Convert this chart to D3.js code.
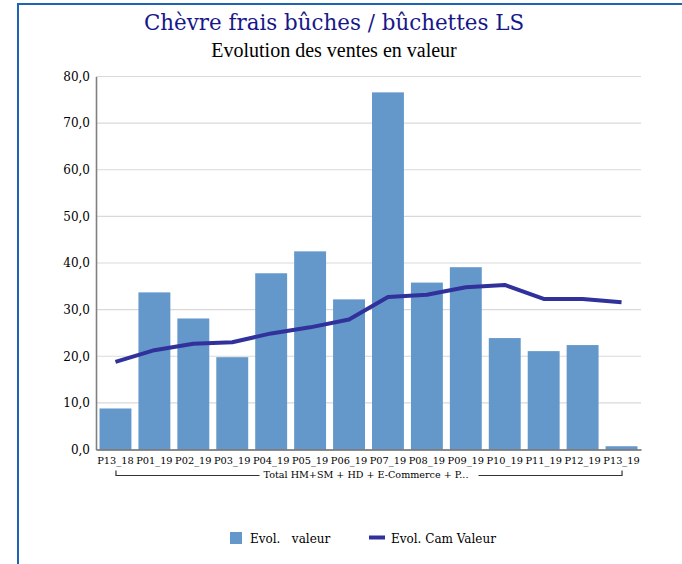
<!DOCTYPE html>
<html>
<head>
<meta charset="utf-8">
<script src="https://cdn.jsdelivr.net/npm/d3@7"></script>
<style>
  html, body { margin: 0; padding: 0; background: #fff; }
  svg { display: block; }
  text { white-space: pre; }
</style>
</head>
<body>
<script>
// Périodes et valeurs
const periods = ["P13_18","P01_19","P02_19","P03_19","P04_19","P05_19","P06_19",
                 "P07_19","P08_19","P09_19","P10_19","P11_19","P12_19","P13_19"];
const evolValeur = [8.8, 33.7, 28.1, 19.8, 37.8, 42.5, 32.2, 76.6, 35.8, 39.1, 23.9, 21.1, 22.4, 0.7];
const evolCamValeur = [18.8, 21.3, 22.7, 23.0, 24.9, 26.2, 27.9, 32.7, 33.2, 34.8, 35.3, 32.3, 32.3, 31.6];
const yTicks = [0, 10, 20, 30, 40, 50, 60, 70, 80];
const groupLabel = "Total HM+SM + HD + E-Commerce + P...";
const chartTitle = "Chèvre frais bûches / bûchettes LS";
const chartSubtitle = "Evolution des ventes en valeur";
const legendLabels = ["Evol.   valeur", "Evol. Cam Valeur"];

const W = 682, H = 564;
const margin = { left: 96, right: 41, top: 76.5, bottom: 114.5 };
const barColor = "#6498cb";
const lineColor = "#31319b";
const serif = "'DejaVu Serif', serif";

const svg = d3.select("body").append("svg").attr("width", W).attr("height", H);

// cadre
svg.append("rect").attr("x", 18).attr("y", 4).attr("width", W + 20).attr("height", H + 20)
  .attr("fill", "none").attr("stroke", "#1f63b5").attr("stroke-width", 2);

const x = d3.scaleBand().domain(periods)
  .range([margin.left, W - margin.right])
  .paddingInner(0.18).paddingOuter(0.09);
const y = d3.scaleLinear().domain([0, 80]).range([H - margin.bottom, margin.top]);

// titres
svg.append("text").attr("x", 334).attr("y", 30).attr("text-anchor", "middle")
  .attr("font-family", serif).attr("font-size", 21.4).attr("fill", "#17178a").text(chartTitle);
svg.append("text").attr("x", 334).attr("y", 57).attr("text-anchor", "middle")
  .attr("font-family", "'Liberation Serif', serif").attr("font-size", 20).attr("fill", "#000").text(chartSubtitle);

// grille
svg.append("g").selectAll("line").data(yTicks.filter(d => d > 0)).join("line")
  .attr("x1", margin.left).attr("x2", W - margin.right)
  .attr("y1", d => y(d)).attr("y2", d => y(d))
  .attr("stroke", "#d9d9d9").attr("stroke-width", 1.2);

// axe Y
const yAxis = svg.append("g").attr("transform", `translate(${margin.left},0)`)
  .call(d3.axisLeft(y).tickValues(yTicks).tickSize(0).tickPadding(6)
    .tickFormat(d => d3.format(".1f")(d).replace(".", ",")));
yAxis.select(".domain").attr("stroke", "#808080").attr("stroke-width", 1.6);
yAxis.selectAll("text").attr("font-family", serif).attr("font-size", 12).attr("fill", "#000");

// barres
svg.append("g").selectAll("rect").data(periods).join("rect")
  .attr("x", d => x(d)).attr("width", x.bandwidth())
  .attr("y", (d, i) => y(evolValeur[i]))
  .attr("height", (d, i) => y(0) - y(evolValeur[i]))
  .attr("fill", barColor);

// axe X
const xAxis = svg.append("g").attr("transform", `translate(0,${y(0)})`)
  .call(d3.axisBottom(x).tickSize(0).tickPadding(8));
xAxis.select(".domain").attr("stroke", "#666").attr("stroke-width", 1.6);
xAxis.selectAll("text").attr("font-family", serif).attr("font-size", 9.8).attr("fill", "#000");

// accolade du groupe
const bx0 = x(periods[0]) + x.bandwidth() / 2 + 0.5;
const bx1 = x(periods[periods.length - 1]) + x.bandwidth() / 2 + 0.5;
const by = y(0) + 26;
const grp = svg.append("g");
const gText = grp.append("text").attr("x", (bx0 + bx1) / 2 - 3).attr("y", by + 2.5)
  .attr("text-anchor", "middle").attr("font-family", serif).attr("font-size", 9.6)
  .attr("fill", "#000").text(groupLabel);
const tw = gText.node().getComputedTextLength();
const tc = (bx0 + bx1) / 2 - 3;
const tx0 = tc - tw / 2 - 4, tx1 = tc + tw / 2 + 10;
grp.append("path")
  .attr("d", `M${bx0},${by - 5}V${by}H${tx0}M${tx1},${by}H${bx1}V${by - 5}`)
  .attr("fill", "none").attr("stroke", "#333").attr("stroke-width", 1.2);

// courbe cumul
const line = d3.line()
  .x((d, i) => x(periods[i]) + x.bandwidth() / 2)
  .y(d => y(d));
svg.append("path").datum(evolCamValeur).attr("d", line)
  .attr("fill", "none").attr("stroke", lineColor).attr("stroke-width", 4)
  .attr("stroke-linejoin", "round");

// légende
const lg = svg.append("g").attr("font-family", serif).attr("font-size", 12).attr("fill", "#000");
lg.append("rect").attr("x", 230).attr("y", 532).attr("width", 12).attr("height", 12).attr("fill", barColor);
lg.append("text").attr("x", 250).attr("y", 543).text(legendLabels[0]);
lg.append("line").attr("x1", 369).attr("x2", 385).attr("y1", 537.5).attr("y2", 537.5)
  .attr("stroke", lineColor).attr("stroke-width", 4);
lg.append("text").attr("x", 391).attr("y", 543).text(legendLabels[1]);
</script>
</body>
</html>
